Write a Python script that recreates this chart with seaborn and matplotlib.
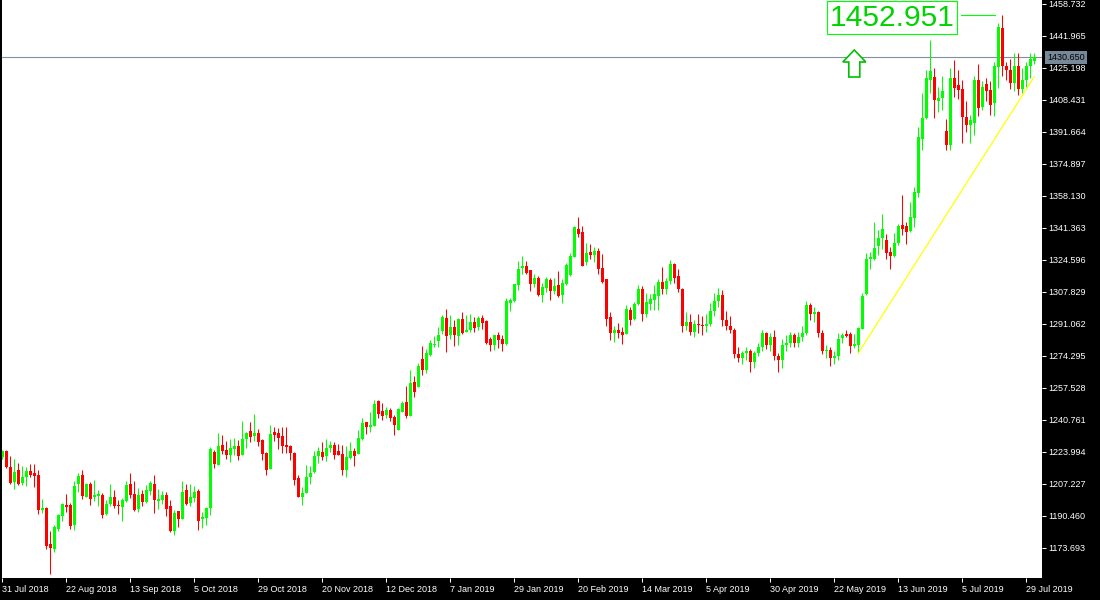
import numpy as np
import pandas as pd
import matplotlib
matplotlib.use("Agg")
import matplotlib.pyplot as plt
import matplotlib.transforms as mtransforms
from matplotlib.patches import Polygon
import seaborn as sns

# daily XAUUSD candles, 31 Jul 2018 .. 31 Jul 2019
opens = [
    1221.2, 1224.4, 1216.0, 1208.2, 1214.4, 1207.6, 1210.7, 1213.9, 1212.8, 1211.8,
    1193.5, 1194.5, 1175.6, 1173.0, 1183.5, 1190.3, 1196.1, 1196.1, 1185.6, 1207.1,
    1211.8, 1200.3, 1207.1, 1200.3, 1200.8, 1201.3, 1191.4, 1196.6, 1200.3, 1196.1,
    1195.0, 1198.2, 1207.1, 1201.8, 1194.0, 1201.8, 1197.7, 1203.4, 1207.1, 1198.2,
    1198.7, 1201.3, 1195.6, 1182.5, 1192.9, 1188.7, 1203.9, 1197.1, 1199.7, 1203.4,
    1188.7, 1189.3, 1194.5, 1223.9, 1217.1, 1227.5, 1224.9, 1222.3, 1225.4, 1227.0,
    1222.3, 1230.7, 1234.9, 1232.2, 1233.8, 1230.1, 1223.3, 1215.0, 1234.3, 1233.8,
    1232.2, 1227.5, 1227.0, 1223.3, 1210.2, 1200.3, 1202.4, 1210.7, 1213.4, 1221.8,
    1223.9, 1221.8, 1226.0, 1227.5, 1224.4, 1222.8, 1214.4, 1220.7, 1224.4, 1222.8,
    1230.7, 1239.6, 1237.0, 1237.5, 1250.6, 1245.3, 1243.2, 1245.9, 1242.2, 1235.4,
    1244.8, 1250.0, 1242.7, 1260.5, 1257.9, 1272.6, 1266.8, 1274.7, 1279.9, 1282.0,
    1287.3, 1294.1, 1285.2, 1289.4, 1284.6, 1293.5, 1286.7, 1287.8, 1292.0, 1289.4,
    1294.1, 1292.5, 1283.1, 1279.9, 1285.2, 1283.1, 1280.4, 1301.9, 1303.0, 1311.4,
    1320.3, 1321.3, 1319.2, 1311.9, 1315.0, 1306.1, 1309.8, 1314.0, 1308.2, 1311.4,
    1306.1, 1311.9, 1316.6, 1326.0, 1340.7, 1339.1, 1323.4, 1328.7, 1327.1, 1329.2,
    1320.3, 1314.5, 1294.6, 1286.2, 1287.8, 1286.7, 1285.7, 1298.3, 1293.5, 1301.4,
    1309.3, 1296.2, 1301.4, 1303.5, 1305.6, 1312.9, 1309.3, 1313.5, 1322.4, 1316.1,
    1309.3, 1290.0, 1292.0, 1287.0, 1291.0, 1290.5, 1290.0, 1291.0, 1298.0, 1303.0,
    1306.0, 1293.0, 1290.0, 1288.0, 1275.0, 1273.0, 1276.0, 1277.0, 1271.0, 1276.0,
    1279.0, 1286.0, 1280.0, 1284.0, 1274.0, 1272.0, 1280.0, 1281.0, 1285.0, 1281.0,
    1284.0, 1286.0, 1301.0, 1296.0, 1297.0, 1286.0, 1277.0, 1277.5, 1273.0, 1274.0,
    1283.6, 1285.7, 1285.7, 1279.4, 1279.9, 1288.3, 1306.6, 1325.0, 1325.0, 1331.8,
    1336.0, 1334.9, 1328.7, 1326.6, 1333.4, 1342.8, 1342.3, 1339.7, 1346.5, 1359.6,
    1387.9, 1398.9, 1418.8, 1420.4, 1408.0, 1409.5, 1392.1, 1384.7, 1420.0, 1416.0,
    1414.0, 1399.4, 1395.2, 1396.2, 1419.0, 1404.6, 1416.5, 1413.5, 1406.7, 1425.6,
    1446.0, 1426.0, 1424.0, 1417.0, 1426.0, 1414.0, 1419.0, 1426.0, 1428.5,
]
highs = [
    1224.9, 1224.9, 1221.8, 1220.2, 1218.1, 1216.6, 1216.0, 1217.6, 1217.6, 1214.4,
    1199.2, 1195.0, 1182.5, 1185.6, 1191.4, 1197.1, 1201.8, 1197.1, 1208.7, 1212.8,
    1214.4, 1207.6, 1208.2, 1209.2, 1203.9, 1202.4, 1198.7, 1207.1, 1203.9, 1198.7,
    1199.7, 1208.7, 1212.8, 1208.7, 1205.0, 1203.9, 1206.5, 1208.7, 1211.8, 1204.4,
    1203.4, 1202.9, 1198.7, 1193.5, 1192.9, 1208.7, 1207.1, 1207.1, 1206.0, 1204.4,
    1192.4, 1195.0, 1226.5, 1224.9, 1233.8, 1232.8, 1229.6, 1230.7, 1231.2, 1230.1,
    1240.1, 1234.3, 1239.6, 1243.8, 1235.9, 1230.7, 1223.9, 1238.0, 1237.0, 1236.4,
    1237.0, 1237.0, 1227.5, 1223.9, 1211.8, 1205.5, 1217.1, 1216.6, 1224.4, 1226.5,
    1229.1, 1230.7, 1229.6, 1229.1, 1228.1, 1227.5, 1227.0, 1229.1, 1226.0, 1235.4,
    1241.7, 1239.6, 1244.8, 1251.1, 1251.1, 1249.5, 1247.4, 1246.9, 1243.2, 1246.9,
    1250.6, 1258.4, 1266.8, 1263.7, 1270.5, 1279.4, 1277.8, 1282.5, 1284.6, 1289.4,
    1295.6, 1298.8, 1295.6, 1293.0, 1294.1, 1297.2, 1295.6, 1296.2, 1294.6, 1295.1,
    1295.6, 1293.0, 1284.1, 1285.2, 1286.7, 1285.2, 1304.6, 1304.6, 1311.9, 1323.9,
    1326.6, 1323.9, 1319.2, 1317.1, 1316.1, 1312.4, 1315.5, 1315.0, 1315.0, 1318.7,
    1314.5, 1322.9, 1328.1, 1342.3, 1347.0, 1342.3, 1333.4, 1332.8, 1331.3, 1330.7,
    1327.6, 1314.5, 1297.2, 1289.9, 1291.4, 1289.4, 1300.9, 1299.8, 1302.5, 1311.4,
    1310.8, 1307.2, 1306.6, 1311.4, 1314.5, 1320.8, 1315.0, 1324.5, 1322.9, 1319.7,
    1310.0, 1297.0, 1296.0, 1293.0, 1296.0, 1295.0, 1296.0, 1302.0, 1307.0, 1310.0,
    1309.0, 1298.0, 1295.0, 1289.0, 1279.0, 1277.0, 1279.0, 1278.0, 1277.0, 1281.0,
    1288.0, 1287.0, 1286.0, 1288.0, 1276.0, 1283.0, 1285.0, 1287.0, 1286.0, 1287.0,
    1290.0, 1303.0, 1302.0, 1300.0, 1298.0, 1288.0, 1280.0, 1279.0, 1277.0, 1286.0,
    1286.2, 1287.8, 1286.7, 1285.7, 1289.4, 1307.2, 1328.1, 1328.7, 1344.4, 1340.2,
    1348.6, 1338.1, 1331.3, 1338.6, 1343.3, 1358.5, 1344.4, 1354.9, 1362.7, 1394.2,
    1412.0, 1424.0, 1439.7, 1425.0, 1415.0, 1421.0, 1398.3, 1425.0, 1429.3, 1424.0,
    1419.0, 1407.8, 1400.4, 1421.0, 1427.0, 1418.0, 1420.0, 1418.0, 1428.0, 1448.6,
    1452.951, 1428.0, 1430.0, 1433.0, 1433.0, 1425.0, 1428.0, 1433.0, 1433.0,
]
lows = [
    1220.2, 1215.4, 1207.1, 1204.4, 1206.5, 1206.5, 1206.0, 1210.7, 1205.5, 1191.4,
    1191.9, 1173.0, 1159.9, 1171.4, 1182.5, 1187.7, 1192.4, 1183.5, 1183.0, 1202.9,
    1199.2, 1200.3, 1196.1, 1198.2, 1195.6, 1189.3, 1190.9, 1195.6, 1194.5, 1191.4,
    1187.7, 1197.7, 1199.7, 1192.9, 1192.4, 1195.6, 1197.1, 1201.3, 1191.9, 1194.0,
    1196.6, 1190.3, 1181.9, 1180.4, 1184.6, 1188.7, 1196.1, 1195.6, 1197.7, 1183.0,
    1184.0, 1185.6, 1190.9, 1215.4, 1217.1, 1222.8, 1220.2, 1218.6, 1222.3, 1219.7,
    1222.3, 1226.0, 1229.1, 1229.6, 1227.0, 1219.7, 1211.8, 1215.0, 1229.6, 1225.4,
    1223.3, 1223.3, 1219.7, 1206.5, 1200.3, 1196.1, 1202.4, 1207.1, 1212.8, 1218.1,
    1219.7, 1219.1, 1223.9, 1220.2, 1222.3, 1211.8, 1210.7, 1220.2, 1216.6, 1222.8,
    1230.1, 1233.3, 1234.3, 1237.5, 1241.7, 1240.6, 1241.7, 1240.1, 1232.8, 1235.4,
    1244.8, 1241.7, 1242.7, 1252.7, 1257.9, 1264.2, 1265.2, 1274.2, 1278.9, 1278.9,
    1285.7, 1276.3, 1283.1, 1279.4, 1279.9, 1285.7, 1286.7, 1286.7, 1286.7, 1287.8,
    1288.3, 1280.4, 1276.8, 1277.3, 1278.4, 1276.8, 1279.9, 1297.7, 1302.4, 1308.7,
    1317.1, 1317.1, 1308.2, 1310.3, 1305.6, 1302.4, 1307.7, 1303.5, 1306.6, 1305.1,
    1301.9, 1311.4, 1316.1, 1326.0, 1336.5, 1321.3, 1321.8, 1325.0, 1323.4, 1317.1,
    1312.4, 1289.9, 1282.5, 1281.5, 1283.6, 1280.4, 1285.7, 1290.4, 1293.0, 1300.9,
    1292.5, 1294.6, 1298.3, 1298.3, 1298.3, 1306.6, 1306.6, 1311.9, 1312.4, 1307.7,
    1287.0, 1288.0, 1285.0, 1284.0, 1286.0, 1285.0, 1287.0, 1290.0, 1295.0, 1300.0,
    1290.0, 1288.0, 1286.0, 1273.0, 1271.0, 1270.0, 1272.0, 1266.0, 1268.0, 1274.0,
    1277.0, 1278.0, 1277.0, 1272.0, 1266.0, 1268.0, 1277.0, 1279.0, 1279.0, 1279.0,
    1282.0, 1285.0, 1293.0, 1292.0, 1284.0, 1275.0, 1273.0, 1269.0, 1270.0, 1272.0,
    1281.0, 1284.1, 1275.7, 1278.4, 1275.7, 1288.3, 1306.1, 1319.7, 1324.5, 1327.1,
    1330.2, 1325.0, 1319.7, 1326.0, 1332.3, 1337.6, 1332.8, 1339.1, 1341.8, 1357.5,
    1382.1, 1398.3, 1412.0, 1398.9, 1402.0, 1403.0, 1382.1, 1382.0, 1409.9, 1409.0,
    1386.0, 1391.5, 1385.8, 1390.0, 1400.0, 1403.0, 1408.0, 1400.4, 1400.0, 1414.6,
    1421.0, 1419.0, 1414.0, 1413.0, 1411.0, 1412.0, 1415.0, 1420.0, 1427.0,
]
closes = [
    1224.4, 1216.0, 1207.6, 1213.4, 1207.1, 1210.7, 1213.9, 1211.8, 1211.3, 1193.5,
    1194.5, 1174.6, 1173.5, 1184.6, 1190.9, 1196.6, 1195.0, 1185.1, 1206.0, 1211.3,
    1200.8, 1207.1, 1199.2, 1201.3, 1201.8, 1190.9, 1196.6, 1200.3, 1195.6, 1195.6,
    1198.7, 1206.5, 1201.3, 1193.5, 1201.3, 1197.7, 1203.9, 1207.6, 1198.7, 1199.2,
    1201.3, 1194.0, 1182.5, 1191.9, 1188.7, 1202.9, 1196.6, 1200.3, 1202.9, 1187.7,
    1189.8, 1194.5, 1225.4, 1217.6, 1227.0, 1224.4, 1222.3, 1226.0, 1227.0, 1221.8,
    1230.7, 1233.8, 1231.7, 1233.8, 1229.1, 1222.8, 1214.4, 1233.3, 1232.8, 1231.2,
    1227.0, 1226.5, 1223.3, 1209.2, 1200.3, 1202.4, 1210.7, 1212.8, 1221.8, 1224.4,
    1221.2, 1226.0, 1227.5, 1222.3, 1222.3, 1214.4, 1221.2, 1224.4, 1221.8, 1231.2,
    1239.0, 1237.0, 1238.0, 1249.0, 1243.8, 1242.7, 1245.9, 1241.7, 1238.0, 1246.4,
    1249.5, 1242.7, 1260.0, 1255.3, 1268.9, 1266.8, 1275.7, 1281.0, 1280.4, 1285.2,
    1294.6, 1284.6, 1289.4, 1285.2, 1293.5, 1286.2, 1287.8, 1292.0, 1288.8, 1294.1,
    1291.4, 1281.0, 1279.9, 1285.2, 1282.5, 1280.4, 1303.0, 1303.5, 1311.9, 1319.7,
    1321.3, 1317.6, 1311.9, 1315.0, 1306.1, 1310.3, 1314.5, 1308.2, 1310.8, 1305.6,
    1312.4, 1321.8, 1326.6, 1341.8, 1338.1, 1321.3, 1328.1, 1327.1, 1329.2, 1319.7,
    1312.9, 1293.5, 1286.2, 1287.8, 1286.2, 1285.2, 1298.8, 1293.0, 1301.4, 1309.3,
    1296.2, 1302.5, 1304.0, 1306.6, 1312.9, 1309.3, 1313.5, 1322.4, 1315.0, 1309.3,
    1290.0, 1292.0, 1287.0, 1291.0, 1290.5, 1290.0, 1291.0, 1298.0, 1303.0, 1306.0,
    1293.0, 1290.0, 1288.0, 1275.0, 1273.0, 1276.0, 1277.0, 1271.0, 1276.0, 1279.0,
    1286.0, 1280.0, 1284.0, 1274.0, 1272.0, 1280.0, 1281.0, 1285.0, 1281.0, 1284.0,
    1286.0, 1301.0, 1296.0, 1297.0, 1286.0, 1277.0, 1277.5, 1273.0, 1274.0, 1283.0,
    1285.2, 1284.6, 1279.4, 1280.4, 1288.8, 1305.6, 1325.0, 1326.0, 1330.7, 1336.0,
    1340.7, 1328.1, 1326.6, 1333.4, 1342.3, 1340.7, 1339.1, 1347.0, 1360.1, 1388.9,
    1398.9, 1419.8, 1423.5, 1408.3, 1409.5, 1413.0, 1384.7, 1420.0, 1414.6, 1413.5,
    1399.5, 1395.2, 1397.8, 1419.0, 1404.0, 1415.0, 1413.0, 1405.7, 1426.0, 1446.5,
    1426.0, 1424.0, 1417.0, 1426.0, 1414.0, 1419.0, 1426.0, 1430.0, 1430.65,
]

date_labels = ["31 Jul 2018", "22 Aug 2018", "13 Sep 2018", "5 Oct 2018",
               "29 Oct 2018", "20 Nov 2018", "12 Dec 2018", "7 Jan 2019",
               "29 Jan 2019", "20 Feb 2019", "14 Mar 2019", "5 Apr 2019",
               "30 Apr 2019", "22 May 2019", "13 Jun 2019", "5 Jul 2019",
               "29 Jul 2019"]
bars_per_label = 16
price_ticks = [1173.693, 1190.460, 1207.227, 1223.994, 1240.761, 1257.528,
               1274.295, 1291.062, 1307.829, 1324.596, 1341.363, 1358.130,
               1374.897, 1391.664, 1408.431, 1425.198, 1441.965, 1458.732]
bid_price = 1430.650
trend_bars = [214, 258]
trend_prices = [1275.7, 1420.5]
arrow_bar = 213
arrow_price = 1434.5

BULL = '#00ff00'
BEAR = '#ff0000'
LABEL_GREEN = '#00d400'

sns.set_theme(style="white")
plt.rcParams['font.family'] = ['Liberation Sans', 'DejaVu Sans']

df = pd.DataFrame({'open': opens, 'high': highs, 'low': lows, 'close': closes})
df['bar'] = np.arange(len(df))
df['up'] = df['close'] >= df['open']
df['body_lo'] = df[['open', 'close']].min(axis=1)
df['body_h'] = (df['close'] - df['open']).abs().clip(lower=0.5)

fig = plt.figure(figsize=(11, 6), dpi=100, facecolor='black')
ax = fig.add_axes([2 / 1100, 22 / 600, 1040 / 1100, 578 / 600])
ax.set_facecolor('white')

# wicks
ax.vlines(df['bar'], df['low'], df['high'],
          colors=np.where(df['up'], BULL, BEAR), lw=0.75, zorder=2)

# bodies
for up, color in ((True, BULL), (False, BEAR)):
    sub = df[df['up'] == up]
    sns.barplot(data=sub, x='bar', y='body_h', bottom=sub['body_lo'].values,
                native_scale=True, width=0.75, color=color, saturation=1,
                errorbar=None, linewidth=0, ax=ax, zorder=3)

sns.lineplot(x=trend_bars, y=trend_prices, color='#ffff00', lw=0.9, ax=ax, zorder=4)
ax.axhline(bid_price, color='#8090a0', lw=0.8, zorder=1)

ax.set_xlim(-0.075, 259.925)
ax.set_ylim(1157.85, 1460.7)
ax.set_xlabel('')
ax.set_ylabel('')
for s in ax.spines.values():
    s.set_visible(False)

ax.set_xticks(np.arange(len(date_labels)) * bars_per_label, date_labels)
for lbl in ax.get_xticklabels():
    lbl.set_ha('left')
ax.tick_params(axis='x', bottom=True, colors='white', length=3, width=0.75,
               pad=2, labelsize=6.5, direction='out')
ax.yaxis.tick_right()
ax.set_yticks(price_ticks, [f'{v:.3f}' for v in price_ticks])
ax.tick_params(axis='y', right=True, left=False, colors='white', length=3,
               width=0.75, pad=1.5, labelsize=6.5, direction='out')
ax.grid(False)

# bid price tag on the scale
ax.annotate(f'{bid_price:.3f}', xy=(1, bid_price), xycoords=('axes fraction', 'data'),
            xytext=(5, 0), textcoords='offset pixels', ha='left', va='center',
            fontsize=6.5, color='black', annotation_clip=False, zorder=6,
            bbox=dict(boxstyle='square,pad=0.25', fc='#778899', ec='none'))

# high label
peak_i = int(np.argmax(highs))
peak = highs[peak_i]
ax.annotate(f'{peak:.3f}', xy=(peak_i, peak), xytext=(-110, -3),
            textcoords='offset pixels', ha='center', va='center',
            fontsize=21.6, color=LABEL_GREEN, zorder=6,
            bbox=dict(boxstyle='square,pad=0.08', fc='white', ec=BULL, lw=0.8))
ax.plot([peak_i - 10.3, peak_i - 1.8], [peak, peak], color=BULL, lw=0.8, zorder=5)

# hollow up arrow
tip = ax.transData.transform((arrow_bar, arrow_price))
shape = np.array([(0, 0), (11.5, -12), (5.5, -12), (5.5, -27),
                  (-5.5, -27), (-5.5, -12), (-11.5, -12)])
ax.add_patch(Polygon(tip + shape, closed=True, fc='white', ec='#00c000', lw=1.2,
                     transform=mtransforms.IdentityTransform(), zorder=6))

fig.savefig('out.png', dpi=100, facecolor='black')
